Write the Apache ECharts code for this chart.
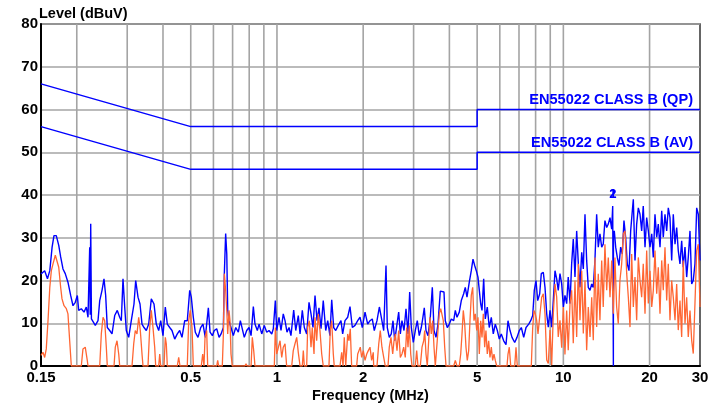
<!DOCTYPE html>
<html><head><meta charset="utf-8">
<script src="https://cdn.jsdelivr.net/npm/echarts@6/dist/echarts.min.js"></script>
<style>html,body{margin:0;padding:0;background:#fff}#c{width:725px;height:409px}</style>
</head><body><div id="c"></div>
<script>
// ---- data ----
const gridFreqs = [0.2,0.3,0.4,0.5,0.6,0.7,0.8,0.9,1,2,3,4,5,6,7,8,9,10,20];
const tickFreqs = [0.15,0.5,1,2,5,10,20,30];
const tickLabels = ['0.15','0.5','1','2','5','10','20','30'];
const qpLimit = [[0.15,66],[0.5,56],[5,56],[5,60],[30,60]];
const avLimit = [[0.15,56],[0.5,46],[5,46],[5,50],[30,50]];
const limitNames = ['EN55022 CLASS B (QP)','EN55022 CLASS B (AV)'];
const markerNames = ['1','2'];
const markerFreq = 15;
const markerLevel = 40.1;

const peakScan = [
[0.150,21.5],[0.1545,22.3],[0.158,20.4],[0.161,22.3],[0.164,27.8],[0.1665,30.5],[0.1696,30.5],[0.173,28.2],
[0.1757,25.5],[0.179,22.7],[0.1823,21.6],[0.1863,19.6],[0.1904,16.5],[0.194,14.1],[0.1976,14.9],[0.2009,16.5],
[0.2031,13.0],[0.2074,13.4],[0.212,12.6],[0.2159,13.8],[0.2189,11.4],[0.2219,27.8],[0.2228,12.0],[0.2237,33.3],
[0.2250,11.0],[0.2279,10.6],[0.2321,9.5],[0.2372,10.6],[0.2405,15.3],[0.245,17.7],[0.2489,20.4],[0.2523,16.5],
[0.2556,9.0],[0.2606,8.3],[0.2655,7.5],[0.2713,11.8],[0.277,13.0],[0.2824,11.4],[0.2861,10.6],[0.290,20.4],
[0.294,13.8],[0.2978,8.3],[0.3036,6.7],[0.310,10.6],[0.3168,14.5],[0.3212,20.0],[0.3272,16.1],[0.3325,14.5],
[0.3379,9.8],[0.3434,9.0],[0.3498,8.3],[0.3566,9.8],[0.3641,15.7],[0.3721,14.5],[0.379,9.8],[0.3864,8.3],
[0.3927,10.6],[0.400,7.1],[0.4075,13.8],[0.4141,9.8],[0.4222,9.0],[0.430,8.3],[0.4395,6.3],[0.4487,7.5],
[0.4575,8.3],[0.466,6.7],[0.4763,10.6],[0.4863,10.6],[0.4958,17.7],[0.5022,16.1],[0.5104,11.4],[0.5186,7.9],
[0.530,6.7],[0.5416,9.0],[0.5517,9.8],[0.562,6.7],[0.576,13.6],[0.584,7.9],[0.595,7.1],[0.604,8.3],
[0.616,8.7],[0.628,6.7],[0.638,7.5],[0.650,9.0],[0.655,21.6],[0.662,31.0],[0.668,26.2],[0.673,13.0],
[0.680,10.6],[0.691,9.0],[0.704,7.1],[0.718,9.0],[0.733,7.9],[0.745,10.6],[0.757,11.0],[0.769,6.7],
[0.784,8.3],[0.799,9.0],[0.812,7.1],[0.827,13.9],[0.838,9.8],[0.854,8.3],[0.866,9.8],[0.885,7.5],
[0.903,9.5],[0.921,7.9],[0.938,8.3],[0.959,7.5],[0.971,8.7],[0.987,15.3],[0.998,8.3],[1.0165,11.4],
[1.033,8.3],[1.052,12.2],[1.067,10.6],[1.084,7.9],[1.102,9.0],[1.119,7.1],[1.144,13.1],[1.163,8.3],
[1.187,11.8],[1.204,7.5],[1.226,13.0],[1.246,9.0],[1.270,7.5],[1.294,14.9],[1.315,12.2],[1.336,9.0],
[1.358,16.5],[1.380,10.6],[1.402,13.6],[1.425,8.7],[1.451,15.3],[1.480,8.3],[1.504,10.6],[1.531,7.1],
[1.553,15.5],[1.578,9.0],[1.604,8.3],[1.637,9.5],[1.673,10.6],[1.696,7.5],[1.728,10.6],[1.766,11.4],
[1.799,13.9],[1.833,9.0],[1.873,9.5],[1.914,10.6],[1.950,11.4],[1.986,9.0],[2.030,12.6],[2.074,9.8],
[2.113,10.6],[2.152,11.0],[2.187,8.3],[2.235,10.6],[2.278,13.8],[2.314,11.4],[2.359,8.3],[2.403,23.5],
[2.428,9.0],[2.467,6.7],[2.507,7.5],[2.542,10.6],[2.577,5.9],[2.625,9.8],[2.661,12.6],[2.696,7.5],
[2.732,10.6],[2.777,8.3],[2.822,13.4],[2.868,7.5],[2.907,17.3],[2.945,9.0],[2.993,5.5],[3.041,8.3],
[3.090,10.6],[3.140,7.1],[3.191,9.0],[3.227,11.0],[3.269,13.6],[3.314,8.3],[3.368,7.1],[3.431,11.4],
[3.487,18.4],[3.535,8.3],[3.592,6.7],[3.650,9.8],[3.718,17.5],[3.769,17.3],[3.830,17.3],[3.870,10.6],
[3.933,9.0],[3.997,9.8],[4.062,11.0],[4.141,10.6],[4.195,13.0],[4.252,11.4],[4.331,12.6],[4.402,15.3],
[4.487,16.9],[4.545,18.4],[4.608,16.1],[4.694,19.6],[4.770,22.3],[4.836,25.0],[4.902,23.5],[4.966,22.3],
[5.034,20.8],[5.088,17.7],[5.145,14.5],[5.199,13.0],[5.270,20.4],[5.338,11.0],[5.425,13.8],[5.512,9.0],
[5.603,11.4],[5.693,7.5],[5.786,9.8],[5.880,8.3],[5.975,6.3],[6.071,7.5],[6.190,5.9],[6.306,5.0],
[6.408,10.6],[6.512,8.3],[6.618,6.7],[6.763,5.5],[6.889,6.7],[7.018,8.3],[7.132,9.0],[7.271,6.7],
[7.407,9.0],[7.569,9.8],[7.691,10.6],[7.816,11.8],[7.917,17.7],[8.026,20.0],[8.136,15.3],[8.268,16.9],
[8.375,21.6],[8.511,21.9],[8.628,18.4],[8.747,12.2],[8.860,9.1],[8.982,13.0],[9.106,9.1],[9.223,15.3],
[9.350,22.3],[9.478,20.4],[9.598,17.7],[9.732,21.6],[9.867,19.2],[10.0,13.8],[10.13,16.5],[10.27,14.6],
[10.40,20.8],[10.55,14.6],[10.69,23.9],[10.83,29.7],[10.98,20.8],[11.13,31.6],[11.28,23.9],[11.43,18.4],
[11.59,26.6],[11.74,22.7],[11.90,35.5],[12.06,24.7],[12.22,18.4],[12.39,17.7],[12.56,19.2],[12.72,18.4],
[12.89,24.7],[13.07,35.5],[13.24,27.8],[13.42,30.9],[13.61,27.8],[13.78,28.5],[13.97,34.0],[14.17,32.4],
[14.35,33.2],[14.55,34.7],[14.75,32.0],[14.87,37.4],[14.95,37.0],[14.95,0],[14.96,30.0],[15.06,31.6],
[15.23,27.8],[15.43,25.4],[15.64,23.5],[15.85,27.8],[16.06,26.2],[16.28,34.0],[16.50,30.1],[16.72,23.9],
[16.95,22.3],[17.18,31.6],[17.41,36.3],[17.55,39.0],[17.79,24.7],[18.03,33.2],[18.27,37.0],[18.52,35.5],
[18.77,31.6],[19.01,37.4],[19.28,27.8],[19.54,34.7],[19.80,31.6],[20.07,27.8],[20.35,30.9],[20.61,25.4],
[20.89,35.5],[21.18,30.1],[21.45,33.2],[21.75,27.8],[22.05,36.3],[22.33,30.1],[22.64,35.5],[22.95,31.6],
[23.25,37.0],[23.57,34.7],[23.89,24.7],[24.20,35.5],[24.54,28.5],[24.87,32.4],[25.19,27.0],[25.54,23.9],
[25.89,29.3],[26.22,23.1],[26.59,27.8],[26.95,20.8],[27.30,25.4],[27.68,31.6],[28.06,19.2],[28.42,20.0],
[28.81,23.9],[29.21,37.0],[29.59,35.5],[30.0,24.7]
];

const avgScan = [
[0.150,2.5],[0.1512,2.8],[0.1524,3.2],[0.1545,2.0],[0.1565,4.0],[0.1587,10.6],[0.161,18.4],[0.163,22.3],
[0.1652,23.9],[0.1683,25.9],[0.171,25.5],[0.173,23.1],[0.1757,18.4],[0.1776,15.7],[0.1805,14.1],[0.1839,13.4],
[0.1863,12.2],[0.1889,5.9],[0.1914,0],[0.2074,0],[0.2102,4.0],[0.2141,4.4],[0.2176,1.3],[0.2189,0],
[0.2405,0],[0.2436,7.5],[0.247,11.4],[0.2503,10.6],[0.2536,4.4],[0.2556,0],[0.2698,0],[0.2726,4.4],
[0.2764,5.9],[0.2802,2.8],[0.2824,0],[0.3118,0],[0.3161,5.2],[0.3201,8.3],[0.3245,7.5],[0.329,11.4],
[0.3333,8.3],[0.3379,2.8],[0.3406,0],[0.3546,0],[0.3595,9.0],[0.3641,13.0],[0.3691,9.0],[0.3742,4.4],
[0.3772,0],[0.3864,0],[0.3896,2.8],[0.3927,0],[0.4033,0],[0.4075,6.7],[0.4108,5.2],[0.4141,0],
[0.4487,0],[0.4538,2.0],[0.4586,0],[0.4863,0],[0.4918,10.6],[0.4982,13.0],[0.5051,9.0],[0.5104,0],
[0.5442,0],[0.5504,2.8],[0.5562,0],[0.5608,6.7],[0.5683,8.3],[0.5729,0],[0.616,0],[0.6209,1.3],
[0.6259,0],[0.6444,0],[0.650,7.5],[0.655,21.6],[0.662,17.7],[0.668,13.0],[0.673,7.5],[0.680,13.0],
[0.6855,10.6],[0.691,2.8],[0.6983,0],[0.7734,0],[0.7797,0.5],[0.786,0],[0.812,0],[0.8202,6.7],
[0.8295,3.6],[0.838,0],[0.979,0],[0.987,9.0],[0.998,2.8],[1.011,3.2],[1.025,5.9],[1.039,2.0],
[1.052,4.4],[1.067,5.2],[1.081,0],[1.126,0],[1.140,3.6],[1.156,5.2],[1.172,6.7],[1.187,3.2],
[1.204,0],[1.226,0],[1.236,3.6],[1.246,0],[1.270,0],[1.280,9.0],[1.297,10.6],[1.315,4.4],
[1.328,9.0],[1.347,2.8],[1.358,11.4],[1.376,5.9],[1.394,12.2],[1.413,8.3],[1.433,2.8],[1.451,0],
[1.519,0],[1.535,8.3],[1.553,10.6],[1.573,2.8],[1.585,0],[1.660,0],[1.683,3.2],[1.701,0],
[1.718,6.7],[1.738,0],[1.766,7.5],[1.785,5.9],[1.803,8.7],[1.823,0],[1.898,0],[1.914,2.8],
[1.934,3.2],[1.954,4.4],[1.976,2.0],[2.002,3.6],[2.030,1.3],[2.058,2.8],[2.084,3.6],[2.113,4.4],
[2.141,1.3],[2.169,3.2],[2.176,0],[2.235,0],[2.267,5.2],[2.295,8.3],[2.326,4.4],[2.359,2.0],
[2.389,0],[2.442,0],[2.467,4.4],[2.501,6.7],[2.536,2.8],[2.563,5.9],[2.590,7.5],[2.625,3.6],
[2.661,8.3],[2.696,2.0],[2.732,2.8],[2.770,4.4],[2.806,2.0],[2.838,9.0],[2.868,4.4],[2.898,9.5],
[2.931,2.8],[2.962,0],[3.041,0],[3.075,3.6],[3.107,0],[3.166,0],[3.210,4.4],[3.254,5.9],
[3.280,8.3],[3.314,2.8],[3.349,0],[3.387,0],[3.422,11.4],[3.458,7.5],[3.498,10.6],[3.535,4.4],
[3.572,0],[3.621,0],[3.650,8.3],[3.689,12.2],[3.731,13.4],[3.769,13.8],[3.809,10.6],[3.852,4.4],
[3.893,0],[4.141,0],[4.195,1.3],[4.252,0],[4.331,0],[4.381,2.8],[4.427,7.5],[4.473,13.0],
[4.524,9.8],[4.571,4.4],[4.619,1.3],[4.671,3.6],[4.720,10.6],[4.770,16.5],[4.824,18.4],[4.875,10.6],
[4.926,12.2],[4.982,8.3],[5.034,11.4],[5.088,2.8],[5.145,10.6],[5.199,6.7],[5.253,12.2],[5.312,4.4],
[5.367,8.3],[5.425,2.8],[5.485,5.9],[5.544,2.0],[5.603,4.4],[5.665,1.3],[5.725,2.8],[5.786,1.3],
[5.851,0],[6.357,0],[6.408,2.8],[6.475,4.4],[6.549,0],[6.763,0],[6.834,4.4],[6.906,0],
[7.728,0],[7.816,9.0],[7.898,13.0],[7.981,12.2],[8.071,10.6],[8.156,7.5],[8.242,10.6],[8.334,13.8],
[8.402,16.1],[8.511,16.9],[8.628,12.2],[8.747,1.4],[8.860,0.6],[8.982,8.4],[9.106,0.2],[9.223,12.2],
[9.350,19.2],[9.478,16.1],[9.598,6.8],[9.732,10.7],[9.867,4.3],[10.0,13.8],[10.13,2.7],[10.27,13.0],
[10.40,3.7],[10.55,14.6],[10.69,17.7],[10.83,5.3],[10.98,20.0],[11.13,6.8],[11.28,23.9],[11.43,10.7],
[11.59,22.3],[11.74,7.6],[11.90,20.0],[12.06,3.7],[12.22,13.8],[12.39,6.8],[12.56,16.1],[12.72,6.0],
[12.89,25.4],[13.07,9.1],[13.24,21.6],[13.42,10.7],[13.61,24.7],[13.78,13.8],[13.97,28.5],[14.17,17.7],
[14.35,25.4],[14.55,16.1],[14.75,24.7],[14.94,12.2],[15.14,25.4],[15.35,13.8],[15.55,9.9],[15.76,20.0],
[15.98,23.9],[16.19,30.9],[16.42,31.6],[16.64,21.6],[16.86,16.1],[17.09,9.1],[17.32,26.2],[17.55,13.8],
[17.79,20.8],[18.03,10.7],[18.27,25.4],[18.52,20.0],[18.77,16.1],[19.01,23.9],[19.28,12.2],[19.54,27.0],
[19.80,14.6],[20.07,22.3],[20.35,13.8],[20.61,17.7],[20.89,27.0],[21.18,16.9],[21.45,23.1],[21.75,12.2],
[22.05,24.7],[22.33,17.7],[22.64,27.8],[22.95,15.3],[23.25,23.9],[23.57,10.7],[23.89,20.0],[24.20,16.1],
[24.54,10.7],[24.87,19.2],[25.19,8.4],[25.54,15.3],[25.89,6.8],[26.22,24.7],[26.59,9.9],[26.95,16.1],
[27.30,6.8],[27.68,13.0],[28.06,6.0],[28.42,2.9],[28.81,14.6],[29.21,27.0],[29.59,28.5],[30.0,13.8]
];

// ---- chart ----
const FONT = '"Liberation Sans", Arial, sans-serif';
const BLUE = '#0000ff';
const ORANGE = '#ff6633';
const GRIDC = '#a4a4a4';
const chart = echarts.init(document.getElementById('c'), null, {renderer:'canvas'});

const textItems = [
  {f:30, v:60, text:limitNames[0], kind:'limit'},
  {f:30, v:50, text:limitNames[1], kind:'limit'},
  {f:markerFreq, v:markerLevel, text:markerNames[0], kind:'marker'},
  {f:markerFreq, v:markerLevel, text:markerNames[1], kind:'marker'}
];

chart.setOption({
  animation:false,
  backgroundColor:'#fff',
  title:{text:'Level (dBuV)', left:39, top:6, padding:0,
    textStyle:{fontFamily:FONT, fontWeight:'bold', fontSize:14.5, color:'#000'}},
  grid:{left:41, right:25, top:24, bottom:43, show:true, borderColor:'#333', borderWidth:1.5, backgroundColor:'#fff'},
  xAxis:{type:'log', logBase:10, min:0.15, max:30,
    name:'Frequency (MHz)', nameLocation:'middle', nameGap:22,
    nameTextStyle:{fontFamily:FONT, fontWeight:'bold', fontSize:14.5, color:'#000'},
    axisLine:{show:true, onZero:false, lineStyle:{color:'#000', width:2}},
    axisTick:{show:false}, axisLabel:{show:false}, splitLine:{show:false}, minorSplitLine:{show:false}},
  yAxis:{type:'value', min:0, max:80, interval:10,
    axisLine:{show:true, lineStyle:{color:'#000', width:2}},
    axisTick:{show:false},
    axisLabel:{fontFamily:FONT, fontWeight:'bold', fontSize:15, color:'#000', margin:3},
    splitLine:{show:true, lineStyle:{color:GRIDC, width:1.6}}},
  series:[
    {type:'custom', silent:true, z:1,
      data:gridFreqs.map(f=>[f,0]), encode:{x:0,y:1},
      renderItem:(p,api)=>{
        const f=api.value(0); const a=api.coord([f,0]); const b=api.coord([f,80]);
        return {type:'line', shape:{x1:a[0],y1:a[1],x2:b[0],y2:b[1]}, style:{stroke:GRIDC, lineWidth:1.6}};
      }},
    {type:'custom', silent:true, z:10, clip:false,
      data:tickFreqs.map((f,i)=>[f,0,i]), encode:{x:0,y:1},
      renderItem:(p,api)=>{
        const a=api.coord([api.value(0),0]);
        return {type:'text', x:a[0], y:a[1]+12, style:{text:tickLabels[api.value(2)], align:'center', verticalAlign:'middle',
          font:'bold 15px '+FONT, fill:'#000'}};
      }},
    {type:'line', name:'QP limit', data:qpLimit, showSymbol:false, symbol:'none', z:3,
      lineStyle:{color:BLUE, width:1.5}},
    {type:'line', name:'AV limit', data:avLimit, showSymbol:false, symbol:'none', z:3,
      lineStyle:{color:BLUE, width:1.5}},
    {type:'line', name:'Peak', data:peakScan, showSymbol:false, symbol:'none', z:4,
      lineStyle:{color:BLUE, width:1.4}},
    {type:'line', name:'Average', data:avgScan, showSymbol:false, symbol:'none', z:5,
      lineStyle:{color:ORANGE, width:1.3}},
    {type:'custom', silent:true, z:11, clip:false,
      data:textItems.map((t,i)=>[t.f,t.v,i]), encode:{x:0,y:1},
      renderItem:(p,api)=>{
        const t=textItems[api.value(2)];
        const a=api.coord([t.f,t.v]);
        if(t.kind==='limit'){
          return {type:'text', x:a[0]-7, y:a[1]-2, style:{text:t.text, align:'right', verticalAlign:'bottom',
            font:'bold 14.6px '+FONT, fill:BLUE}};
        }
        return {type:'text', x:a[0]-1, y:a[1], style:{text:t.text, align:'center', verticalAlign:'middle',
          font:'bold 13px '+FONT, fill:BLUE}};
      }}
  ]
});
</script></body></html>
